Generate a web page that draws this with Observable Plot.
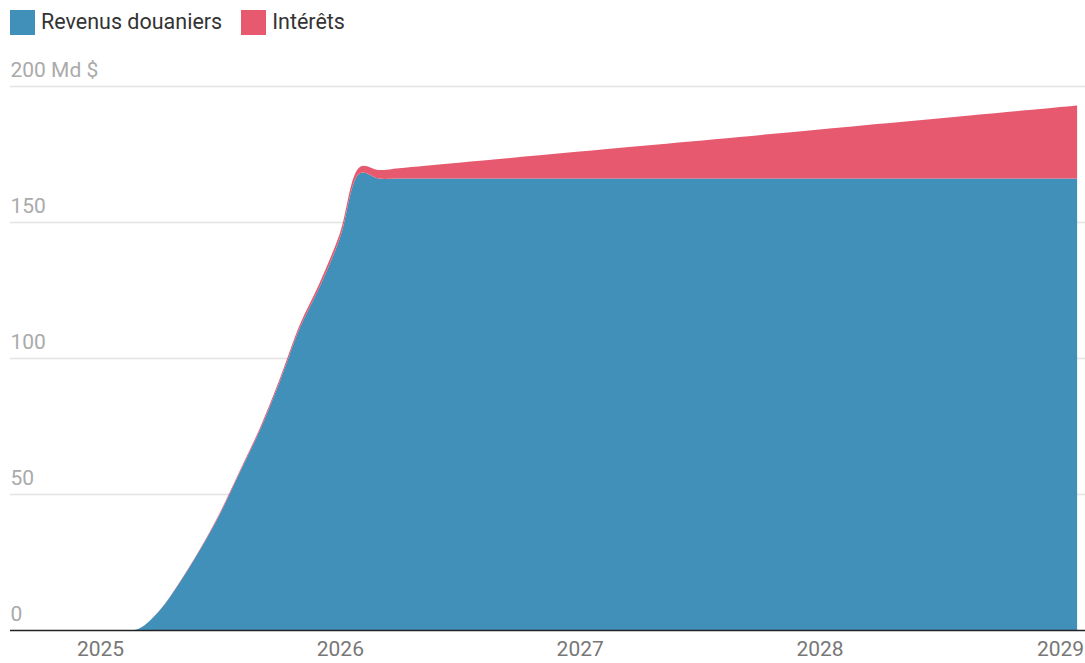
<!DOCTYPE html>
<html>
<head>
<meta charset="utf-8">
<script src="https://cdn.jsdelivr.net/npm/d3@7"></script>
<script src="https://cdn.jsdelivr.net/npm/@observablehq/plot@0.6"></script>
<style>
  html, body { margin: 0; padding: 0; background: #fff; }
  body { width: 1085px; height: 663px; overflow: hidden; font-family: Roboto, "Noto Sans", sans-serif; }
  #legend { height: 45px; display: flex; align-items: flex-start; padding-left: 10px; padding-top: 9px; box-sizing: border-box; font-size: 21.5px; color: #333; }
  .item { display: flex; align-items: center; margin-right: 19px; line-height: 26px; }
  .sw { width: 25px; height: 25px; margin-right: 6px; }
</style>
</head>
<body>
<div id="legend"></div>
<div id="chart"></div>
<script>
const seriesNames = ["Revenus douaniers", "Intérêts"];
const seriesColors = ["#4190BA", "#E6596E"];

const dates = ["2025-01-01","2025-02-01","2025-03-01","2025-04-01","2025-05-01","2025-06-01","2025-07-01","2025-08-01","2025-09-01","2025-10-01","2025-11-01","2025-12-01","2026-01-01","2026-02-01","2026-03-01","2026-04-01","2026-07-01","2027-01-01","2028-01-01","2029-01-27"];
const douane = [0,0,0.5,7,17,29,42,57.6,73.3,91,111,126,144,168,166,166,166,166,166,166];
const interets = [0,0,0,0.1,0.2,0.3,0.5,0.6,0.8,1.0,1.2,1.5,1.8,2.3,3.1,3.8,5.8,9.9,18.0,26.8];

const yTicks = [0, 50, 100, 150, 200];
const yTickLabels = ["0", "50", "100", "150", "200 Md $"];
const xTickYears = ["2025", "2026", "2027", "2028", "2029"];

const legend = document.getElementById("legend");
seriesNames.forEach((n, i) => {
  const it = document.createElement("div");
  it.className = "item";
  it.innerHTML = `<div class="sw" style="background:${seriesColors[i]}"></div><span>${n}</span>`;
  legend.appendChild(it);
});

const data = [];
dates.forEach((d, i) => {
  data.push({date: new Date(d), value: douane[i], series: seriesNames[0]});
  data.push({date: new Date(d), value: interets[i], series: seriesNames[1]});
});

const xDomain = [new Date("2024-08-17"), new Date("2029-02-08")];
const yLabelData = yTicks.map((v, i) => ({v, label: yTickLabels[i]}));

const chart = Plot.plot({
  width: 1085,
  height: 618,
  marginTop: 41,
  marginBottom: 33,
  marginLeft: 10,
  marginRight: 0,
  style: {fontFamily: "Roboto, 'Noto Sans', sans-serif", background: "#fff"},
  x: {type: "utc", domain: xDomain, axis: null},
  y: {domain: [0, 200], axis: null},
  color: {domain: seriesNames, range: seriesColors},
  marks: [
    Plot.ruleY(yTicks.filter(v => v > 0), {stroke: "#e3e3e3", strokeWidth: 1.5}),
    Plot.areaY(data, Plot.stackY({x: "date", y: "value", z: "series", fill: "series", order: seriesNames, curve: "catmull-rom"})),
    Plot.ruleY([0], {stroke: "#222", strokeWidth: 1.5}),
    Plot.text(yLabelData, {x: xDomain[0], y: "v", text: "label", textAnchor: "start", lineAnchor: "bottom", dy: -10, fill: "#aaa", fontSize: 21}),
    Plot.text(xTickYears, {x: d => new Date(d + "-01-01"), frameAnchor: "bottom", text: d => d, lineAnchor: "top", dy: 11, fill: "#777", fontSize: 21})
  ]
});
document.getElementById("chart").appendChild(chart);
</script>
</body>
</html>
